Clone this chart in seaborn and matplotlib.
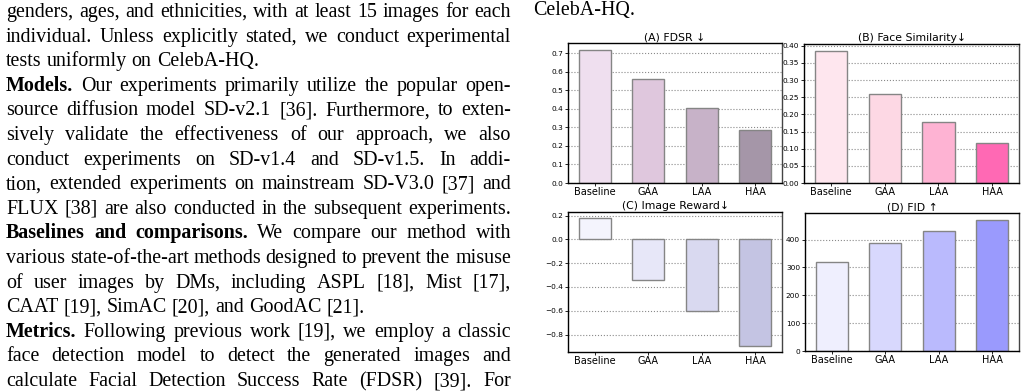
import matplotlib
matplotlib.use("Agg")
import matplotlib.pyplot as plt
import seaborn as sns

# bar chart data
methods = ["Baseline", "GAA", "LAA", "HAA"]
fdsr = [0.718, 0.562, 0.406, 0.283]
face_sim = [0.386, 0.260, 0.177, 0.116]
image_reward = [0.177, -0.341, -0.600, -0.893]
fid = [321, 389, 431, 472]

titles = ["(A) FDSR \u2193", "(B) Face Similarity\u2193",
          "(C) Image Reward\u2193", "(D) FID \u2191"]
colors_a = ["#efdfef", "#dfc7dd", "#c7b2c8", "#a596a8"]
colors_b = ["#fee6ee", "#fdd8e4", "#feb3d3", "#ff69b4"]
colors_c = ["#f4f4fd", "#e7e7f8", "#d9d9f0", "#c4c4e3"]
colors_d = ["#efeffe", "#d8d8fd", "#babafd", "#9a9afd"]

# surrounding page text
caption_tail = "CelebA-HQ."
body_lines = [
    ("", "genders, ages, and ethnicities, with at least 15 images for each", True),
    ("", "individual. Unless explicitly stated, we conduct experimental", True),
    ("", "tests uniformly on CelebA-HQ.", False),
    ("Models.", "Our experiments primarily utilize the popular open-", True),
    ("", "source diffusion model SD-v2.1 [36]. Furthermore, to exten-", True),
    ("", "sively validate the effectiveness of our approach, we also", True),
    ("", "conduct experiments on SD-v1.4 and SD-v1.5. In addi-", True),
    ("", "tion, extended experiments on mainstream SD-V3.0 [37] and", True),
    ("", "FLUX [38] are also conducted in the subsequent experiments.", True),
    ("Baselines and comparisons.", "We compare our method with", True),
    ("", "various state-of-the-art methods designed to prevent the misuse", True),
    ("", "of user images by DMs, including ASPL [18], Mist [17],", True),
    ("", "CAAT [19], SimAC [20], and GoodAC [21].", False),
    ("Metrics.", "Following previous work [19], we employ a classic", True),
    ("", "face detection model to detect the generated images and", True),
    ("", "calculate Facial Detection Success Rate (FDSR) [39]. For", True),
]

W, H = 1026, 392
fig = plt.figure(figsize=(W / 100, H / 100), dpi=100)
fig.patch.set_facecolor("white")
renderer = fig.canvas.get_renderer()

serif = "Liberation Serif"
fs_body = 14.4


def word_width(s, bold):
    t = fig.text(0, 0, s, fontsize=fs_body, family=serif,
                 weight="bold" if bold else "normal")
    w = t.get_window_extent(renderer).width
    t.remove()
    return w


x0, x1 = 6, 511
space_w = word_width("a b", False) - word_width("ab", False)
for i, (bold, rest, justify) in enumerate(body_lines):
    words = [(w, True) for w in bold.split()] + [(w, False) for w in rest.split()]
    widths = [word_width(w, b) for w, b in words]
    if justify and len(words) > 1:
        gap = (x1 - x0 - sum(widths)) / (len(words) - 1)
    else:
        gap = space_w
    y = 17 + 24.6 * i
    x = x0
    for (w, b), ww in zip(words, widths):
        fig.text(x / W, 1 - y / H, w, fontsize=fs_body, family=serif,
                 weight="bold" if b else "normal", va="baseline", ha="left")
        x += ww + gap

fig.text(533 / W, 1 - 15 / H, caption_tail, fontsize=fs_body, family=serif,
         va="baseline", ha="left")

# chart panels (pixel boxes: left, top, right, bottom)
boxes = [(568, 43, 782, 183), (804, 44, 1019, 183),
         (568, 212, 782, 352), (805, 213, 1019, 351)]
series = [fdsr, face_sim, image_reward, fid]
palettes = [colors_a, colors_b, colors_c, colors_d]
yticks = [
    [0.0, 0.1, 0.2, 0.3, 0.4, 0.5, 0.6, 0.7],
    [0.00, 0.05, 0.10, 0.15, 0.20, 0.25, 0.30, 0.35, 0.40],
    [-0.8, -0.6, -0.4, -0.2, 0.0, 0.2],
    [0, 100, 200, 300, 400],
]
fmts = ["{:.1f}", "{:.2f}", "{:.1f}", "{:.0f}"]

for (l, t, r, b), vals, pal, ticks, fmt, title in zip(
        boxes, series, palettes, yticks, fmts, titles):
    ax = fig.add_axes([l / W, 1 - b / H, (r - l) / W, (b - t) / H])
    sns.barplot(x=methods, y=vals, hue=methods, palette=pal, legend=False,
                ax=ax, width=0.6, saturation=1, edgecolor="#858585",
                linewidth=1.0)
    ax.set_axisbelow(True)
    ax.grid(axis="y", linestyle=":", color="#8a8a8a", linewidth=0.8)
    ax.set_yticks(ticks)
    ax.set_yticklabels([fmt.format(v).replace("-", "\u2212") for v in ticks])
    ax.tick_params(axis="y", labelsize=5.3, length=2, width=0.6, pad=1.5)
    ax.tick_params(axis="x", labelsize=7, length=2, width=0.6, pad=1)
    ax.set_title(title, fontsize=7.8, pad=2)
    ax.set_xlabel("")
    ax.set_ylabel("")
    for side, sp in ax.spines.items():
        sp.set_linewidth(1.0)
        sp.set_color("black" if side in ("left", "bottom", "top") else "#444444")

fig.savefig("out.png", dpi=100)
